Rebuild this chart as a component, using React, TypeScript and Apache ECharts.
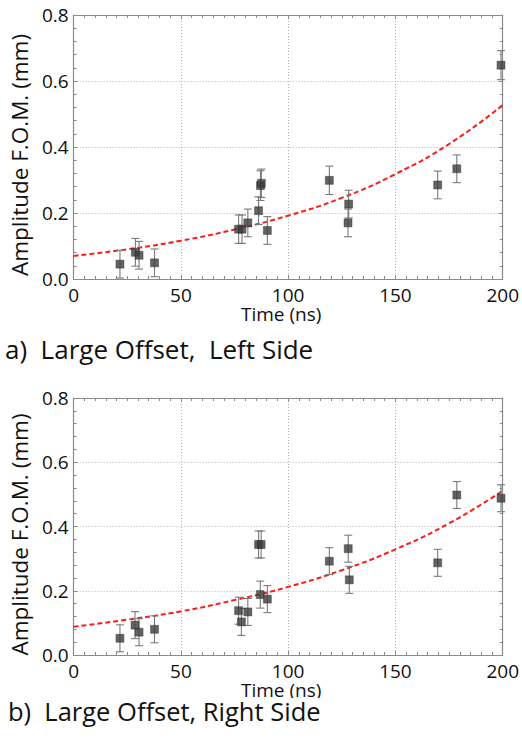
import React, { useEffect, useRef } from "react";
import * as echarts from "echarts";

// Panel a) Large Offset, Left Side
const timeA = [21.6, 28.8, 30.5, 37.7, 76.9, 78.5, 81.2, 86.2, 87.1, 87.5, 90.3, 119.2, 127.9, 128.2, 169.7, 178.6, 199.2];
const fomA = [0.045, 0.081, 0.072, 0.049, 0.151, 0.151, 0.170, 0.207, 0.283, 0.290, 0.147, 0.299, 0.170, 0.227, 0.285, 0.334, 0.648];
const errA = [0.042, 0.042, 0.042, 0.042, 0.043, 0.043, 0.042, 0.042, 0.045, 0.043, 0.042, 0.043, 0.042, 0.042, 0.042, 0.042, 0.044];

// Panel b) Large Offset, Right Side
const timeB = [21.6, 28.6, 30.5, 37.7, 76.9, 78.2, 81.2, 86.2, 87.4, 87.0, 90.3, 119.2, 128.0, 128.5, 169.7, 178.6, 199.2];
const fomB = [0.052, 0.093, 0.071, 0.080, 0.138, 0.103, 0.134, 0.344, 0.344, 0.188, 0.174, 0.292, 0.331, 0.234, 0.287, 0.498, 0.488];
const errB = [0.042, 0.042, 0.042, 0.042, 0.042, 0.042, 0.042, 0.042, 0.042, 0.042, 0.042, 0.042, 0.042, 0.042, 0.042, 0.042, 0.042];

// Dashed fit curves
const fitTime = [0, 25, 50, 75, 100, 125, 150, 175, 200];
const fitA = [0.070, 0.090, 0.116, 0.150, 0.192, 0.246, 0.318, 0.409, 0.527];
const fitB = [0.088, 0.110, 0.136, 0.171, 0.212, 0.264, 0.329, 0.410, 0.511];

const xTicks = [0, 50, 100, 150, 200];
const yTicks = [0, 0.2, 0.4, 0.6, 0.8];

const captionA = "a)  Large Offset,  Left Side";
const captionB = "b)  Large Offset, Right Side";
const xName = "Time (ns)";
const yName = "Amplitude F.O.M. (mm)";

const FONT = "'Open Sans', sans-serif";
const FRAME = "#8a8a8a";

function xAxes(grid: number) {
  const common = {
    type: "value" as const,
    gridIndex: grid,
    min: xTicks[0],
    max: xTicks[xTicks.length - 1],
    interval: xTicks[1] - xTicks[0],
    axisLine: { show: true, onZero: false, lineStyle: { color: FRAME, width: 1.2 } },
    axisTick: { show: true, inside: true, length: 4, lineStyle: { color: FRAME } },
    minorTick: { show: true, splitNumber: 10, length: 3, lineStyle: { color: FRAME } },
  };
  return [
    {
      ...common,
      position: "bottom",
      splitLine: { show: true, lineStyle: { type: [1, 2], color: "#b5b5b5", width: 1 } },
      axisLabel: { color: "#111", fontSize: 19, fontFamily: FONT, margin: 6 },
      name: xName,
      nameLocation: "middle",
      nameGap: 25,
      nameTextStyle: { color: "#111", fontSize: 19, fontFamily: FONT, padding: [0, 14, 0, 0] },
    },
    {
      ...common,
      position: "top",
      splitLine: { show: false },
      axisLabel: { show: false },
    },
  ];
}

function yAxes(grid: number) {
  const common = {
    type: "value" as const,
    gridIndex: grid,
    min: yTicks[0],
    max: yTicks[yTicks.length - 1],
    interval: yTicks[1] - yTicks[0],
    axisLine: { show: true, onZero: false, lineStyle: { color: FRAME, width: 1.2 } },
    axisTick: { show: true, inside: true, length: 4, lineStyle: { color: FRAME } },
    minorTick: { show: true, splitNumber: 5, length: 3, lineStyle: { color: FRAME } },
  };
  return [
    {
      ...common,
      position: "left",
      splitLine: { show: true, lineStyle: { type: [1, 2], color: "#b5b5b5", width: 1 } },
      axisLabel: {
        color: "#111",
        fontSize: 19,
        fontFamily: FONT,
        margin: 5,
        formatter: (v: number) => v.toFixed(1),
      },
      name: yName,
      nameLocation: "middle",
      nameGap: 34,
      nameTextStyle: { color: "#111", fontSize: 22.5, fontFamily: FONT, padding: [0, 16, 0, 0] },
    },
    {
      ...common,
      position: "right",
      splitLine: { show: false },
      axisLabel: { show: false },
    },
  ];
}

function errorRender(params: any, api: any) {
  const x = api.value(0);
  const y = api.value(1);
  const e = api.value(2);
  const top = api.coord([x, y + e]);
  const bot = api.coord([x, y - e]);
  const hw = 4;
  const style = { stroke: "#7a7a7a", lineWidth: 1.1 };
  return {
    type: "group",
    children: [
      { type: "line", shape: { x1: top[0], y1: top[1], x2: bot[0], y2: bot[1] }, style },
      { type: "line", shape: { x1: top[0] - hw, y1: top[1], x2: top[0] + hw, y2: top[1] }, style },
      { type: "line", shape: { x1: bot[0] - hw, y1: bot[1], x2: bot[0] + hw, y2: bot[1] }, style },
    ],
  };
}

function panelSeries(grid: number, t: number[], v: number[], e: number[], fit: number[]) {
  const xi = grid * 2;
  const yi = grid * 2;
  return [
    {
      type: "line",
      xAxisIndex: xi,
      yAxisIndex: yi,
      data: fitTime.map((tt, i) => [tt, fit[i]]),
      smooth: true,
      symbol: "none",
      lineStyle: { color: "#ff1a1a", width: 2, type: [5, 3] },
      z: 3,
    },
    {
      type: "custom",
      xAxisIndex: xi,
      yAxisIndex: yi,
      data: t.map((tt, i) => [tt, v[i], e[i]]),
      encode: { x: 0, y: 1 },
      renderItem: errorRender,
      z: 4,
    },
    {
      type: "scatter",
      xAxisIndex: xi,
      yAxisIndex: yi,
      data: t.map((tt, i) => [tt, v[i]]),
      symbol: "rect",
      symbolSize: 8,
      itemStyle: { color: "#3c3c3c", borderColor: "#2a2a2a", borderWidth: 0.5 },
      z: 5,
    },
  ];
}

export default function App() {
  const ref = useRef<HTMLDivElement>(null);
  useEffect(() => {
    if (!ref.current) return;
    const chart = echarts.init(ref.current, undefined, { renderer: "svg" });
    chart.setOption({
      animation: false,
      backgroundColor: "#ffffff",
      grid: [
        { left: 73, top: 15, width: 434, height: 264 },
        { left: 73, top: 398, width: 434, height: 257 },
      ],
      xAxis: [...xAxes(0), ...xAxes(1)],
      yAxis: [...yAxes(0), ...yAxes(1)],
      series: [
        ...panelSeries(0, timeA, fomA, errA, fitA),
        ...panelSeries(1, timeB, fomB, errB, fitB),
      ],
      graphic: [
        { type: "rect", left: 0, top: 698, shape: { width: 522, height: 47 }, style: { fill: "#fff" }, z: 100 },
        {
          type: "text",
          left: 5,
          top: 336,
          z: 101,
          style: { text: captionA, fontSize: 26, fontFamily: FONT, fill: "#111" },
        },
        {
          type: "text",
          left: 8,
          top: 698,
          z: 101,
          style: { text: captionB, fontSize: 25.5, fontFamily: FONT, fill: "#111" },
        },
      ],
    });
    return () => chart.dispose();
  }, []);
  return (
    <div
      ref={ref}
      style={{ position: "fixed", left: 0, top: 0, width: 522, height: 745, background: "#fff" }}
    />
  );
}
